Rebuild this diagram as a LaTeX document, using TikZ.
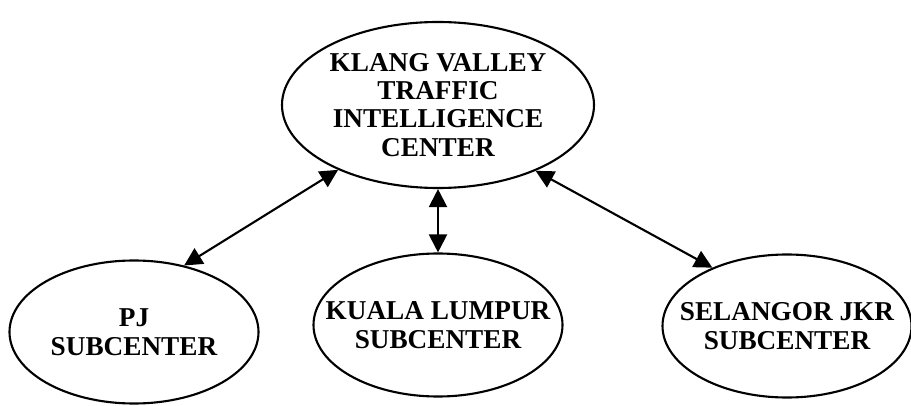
\documentclass[tikz,border=0pt]{standalone}
\usepackage{fontspec}
\setmainfont{Liberation Serif}
\usepackage{tikz}
\usetikzlibrary{shapes.geometric, arrows.meta, positioning}

\begin{document}
\begin{tikzpicture}[
    hub/.style={ellipse, draw, line width=1.2pt, inner sep=-1cm, minimum width=6.24cm, minimum height=3.32cm, align=center, font=\fontsize{15.5}{16}\selectfont\bfseries},
    subcenter/.style={ellipse, draw, line width=1.2pt, inner sep=-1cm, minimum width=4.98cm, minimum height=2.86cm, align=center, font=\fontsize{15.5}{16.5}\selectfont\bfseries},
    arrow/.style={{Triangle[length=0.36cm, width=0.36cm]}-{Triangle[length=0.36cm, width=0.36cm]}, line width=1.2pt}
]
\useasboundingbox (0,0) rectangle (18.22,-8.12);
\node[hub] (klang) at (8.76,-2.10) {KLANG VALLEY\\TRAFFIC\\INTELLIGENCE\\CENTER};
\node[subcenter] (pj) at (2.68,-6.64) {PJ\\SUBCENTER};
\node[subcenter] (kl) at (8.76,-6.50) {KUALA LUMPUR\\SUBCENTER};
\node[subcenter] (sel) at (15.74,-6.52) {SELANGOR JKR\\SUBCENTER};

\draw[arrow] (pj.53) -- (klang.213);
\draw[arrow] (kl.north) -- (klang.south);
\draw[arrow] (sel.142) -- (klang.326);
\end{tikzpicture}
\end{document}
